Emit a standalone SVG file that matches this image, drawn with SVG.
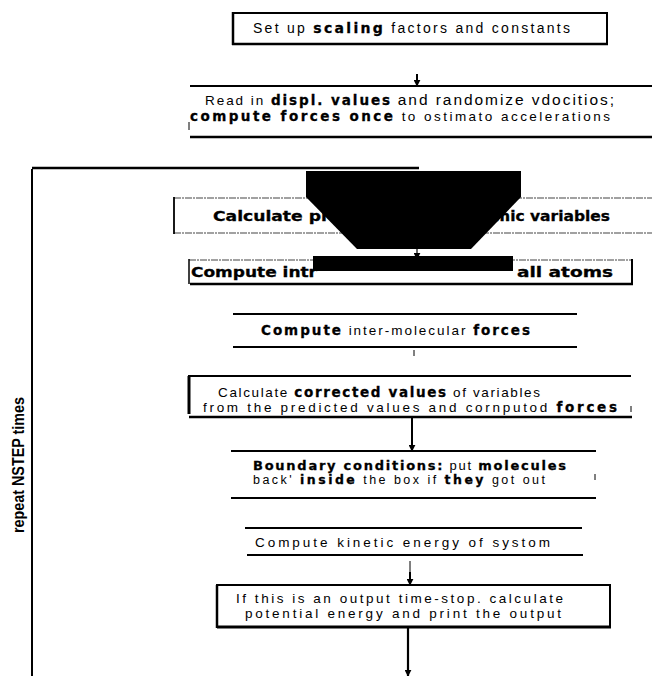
<svg xmlns="http://www.w3.org/2000/svg" width="652" height="676" viewBox="0 0 652 676">
<defs>
<style>
text{font-family:"Liberation Sans",Arial,sans-serif;fill:#000}
.r{font-size:13.5px}
.b{font-family:"DejaVu Sans","Liberation Sans",sans-serif;font-weight:bold;stroke:#000;stroke-width:0.3}
.ln{stroke:#000;fill:none}
.dot{stroke:#444;stroke-width:1.2;stroke-dasharray:7 1 2 1;fill:none}
</style>
<marker id="ah" viewBox="0 0 10 10" refX="9" refY="5" markerWidth="7" markerHeight="7" markerUnits="userSpaceOnUse" orient="auto">
<path d="M0,0 L10,5 L0,10 Z" fill="#000"/>
</marker>
</defs>
<rect width="652" height="676" fill="#fff"/>

<g id="connectors">
<line class="ln" x1="417" y1="74" x2="417" y2="86" stroke-width="2" marker-end="url(#ah)"/>
<line class="ln" x1="32" y1="169" x2="32" y2="676" stroke-width="2"/>
<line class="ln" x1="32" y1="168" x2="419" y2="168" stroke-width="2.5"/>
<line class="ln" x1="417" y1="248" x2="417" y2="259" stroke-width="1.2" marker-end="url(#ah)"/>
<line class="ln" x1="414" y1="350" x2="414" y2="356" stroke="#777" stroke-width="1"/>
<line class="ln" x1="412" y1="418" x2="412" y2="451" stroke-width="2" marker-end="url(#ah)"/>
<line class="ln" x1="410" y1="561" x2="410" y2="572" stroke="#777" stroke-width="1"/>
<line class="ln" x1="410" y1="572" x2="410" y2="585" stroke-width="2" marker-end="url(#ah)"/>
<line class="ln" x1="408" y1="627" x2="408" y2="676" stroke-width="2.2" marker-end="url(#ah)"/>
</g>

<g id="n1">
<line class="ln" x1="233" y1="13" x2="607" y2="13" stroke-width="2"/>
<line class="ln" x1="233" y1="12" x2="233" y2="45" stroke-width="2.5"/>
<line class="ln" x1="607" y1="12" x2="607" y2="45" stroke-width="2"/>
<line class="ln" x1="232" y1="44" x2="608" y2="44" stroke-width="2.5"/>
<text x="253" y="33" font-size="14" textLength="317">Set up <tspan class="b">scaling</tspan> factors and constants</text>
</g>

<g id="n2">
<line class="ln" x1="190" y1="86" x2="652" y2="86" stroke-width="2"/>
<line class="ln" x1="189" y1="122" x2="189" y2="130" stroke-width="1"/>
<line class="ln" x1="190" y1="137" x2="652" y2="137" stroke-width="2.5"/>
<text x="205" y="105" class="r" textLength="409">Read in <tspan class="b">displ. values</tspan> <tspan font-size="15.5">and randomize vdocitios;</tspan></text>
<text x="190" y="121" class="r" textLength="420"><tspan class="b">compute forces once</tspan> to ostimato accelerations</text>
</g>

<g id="n3">
<line class="dot" x1="174" y1="198" x2="652" y2="198"/>
<line class="dot" x1="174" y1="233" x2="652" y2="233"/>
<line class="ln" x1="174" y1="197" x2="174" y2="234" stroke-width="1.8"/>
<text x="213" y="221" font-size="13.5" class="b" textLength="128" lengthAdjust="spacingAndGlyphs">Calculate pre</text>
<text x="494" y="221" font-size="13.5" class="b" textLength="116" lengthAdjust="spacingAndGlyphs">mic variables</text>
</g>

<g id="n4">
<line class="dot" x1="189" y1="260" x2="632" y2="260"/>
<line class="ln" x1="189" y1="259" x2="189" y2="284" stroke-width="1.5"/>
<line class="ln" x1="632" y1="259" x2="632" y2="284" stroke-width="2"/>
<line class="ln" x1="190" y1="284" x2="633" y2="284" stroke-width="2.5"/>
<text x="191" y="277" font-size="13.5" class="b" textLength="126" lengthAdjust="spacingAndGlyphs">Compute intr</text>
<text x="517" y="277" font-size="13.5" class="b" textLength="96" lengthAdjust="spacingAndGlyphs">all atoms</text>
</g>

<g id="mask">
<polygon points="306,171 521,171 521,197 471,249 357,249 306,197" fill="#000"/>
<rect x="313" y="256" width="200" height="15" fill="#000"/>
</g>

<g id="n5">
<line class="ln" x1="233" y1="314" x2="577" y2="314" stroke-width="2"/>
<line class="ln" x1="233" y1="347" x2="577" y2="347" stroke-width="2"/>
<text x="261" y="335" class="r" textLength="269"><tspan class="b">Compute</tspan> inter-molecular <tspan class="b">forces</tspan></text>
</g>

<g id="n6">
<line class="ln" x1="188" y1="376" x2="631" y2="376" stroke-width="2"/>
<line class="ln" x1="189" y1="376" x2="189" y2="414" stroke-width="3"/>
<line class="ln" x1="189" y1="417" x2="632" y2="417" stroke-width="2.5"/>
<line class="ln" x1="631" y1="406" x2="631" y2="412" stroke="#777" stroke-width="1"/>
<text x="218" y="397" class="r" textLength="322">Calculate <tspan class="b">corrected values</tspan> of variables</text>
<text x="203" y="412" class="r" textLength="414">from the predicted values and cornputod <tspan class="b">forces</tspan></text>
</g>

<g id="n7">
<line class="ln" x1="231" y1="451" x2="596" y2="451" stroke-width="2"/>
<line class="ln" x1="231" y1="498" x2="596" y2="498" stroke-width="2"/>
<line class="ln" x1="595" y1="474" x2="595" y2="480" stroke="#777" stroke-width="1"/>
<text x="253" y="470" font-size="13" textLength="313"><tspan class="b">Boundary conditions:</tspan> put <tspan class="b">molecules</tspan></text>
<text x="253" y="484" font-size="12.5" textLength="292">back' <tspan class="b">inside</tspan> the box if <tspan class="b">they</tspan> got out</text>
</g>

<g id="n8">
<line class="ln" x1="245" y1="528" x2="582" y2="528" stroke-width="2"/>
<line class="ln" x1="247" y1="555" x2="583" y2="555" stroke-width="2"/>
<text x="255" y="547" class="r" textLength="295">Compute kinetic energy of systom</text>
</g>

<g id="n9">
<rect x="217" y="585" width="393" height="42" fill="none" stroke="#000" stroke-width="2"/>
<line class="ln" x1="217" y1="585" x2="217" y2="628" stroke-width="2.5"/>
<line class="ln" x1="217" y1="627" x2="611" y2="627" stroke-width="3"/>
<text x="236" y="603" class="r" textLength="327">If this is an output time-stop. calculate</text>
<text x="245" y="618" class="r" textLength="316">potential energy and print the output</text>
</g>

<g id="loop-label">
<text transform="translate(24,465) rotate(-90)" text-anchor="middle" font-size="16" font-weight="bold" textLength="136" lengthAdjust="spacingAndGlyphs" font-family="'Liberation Sans Narrow','Liberation Sans',sans-serif">repeat NSTEP times</text>
</g>
</svg>
